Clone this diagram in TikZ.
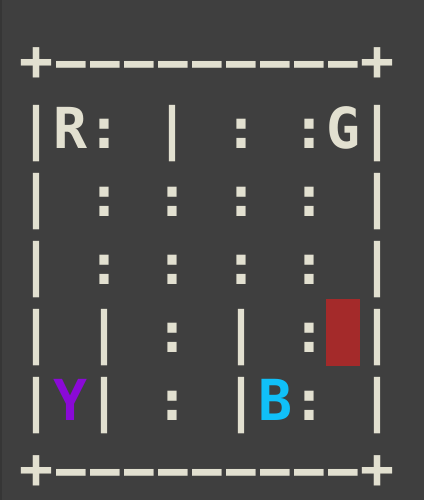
\documentclass[tikz,border=0pt]{standalone}
\usepackage{fontspec}
\newfontfamily\monofam{DejaVu Sans Mono}
\definecolor{bg}{HTML}{3F3F3F}
\definecolor{bgedge}{HTML}{363636}
\definecolor{ink}{HTML}{E2E0D0}
\definecolor{ypurple}{HTML}{8A0AD6}
\definecolor{bblue}{HTML}{10C0F8}
\definecolor{taxired}{HTML}{A42A2A}
\tikzset{
  glyph/.style={inner sep=0pt, outer sep=0pt, anchor=base, text=ink,
    font=\monofam\bfseries\fontsize{42.36pt}{50pt}\selectfont},
}
\newcommand{\dashglyph}{\scalebox{0.87}[1]{–}}
\begin{document}
\begin{tikzpicture}[x=0.75pt,y=-0.75pt]
\fill[bg] (0,0) rectangle (424,500);
\fill[bgedge] (0,0) rectangle (2,500);
\useasboundingbox (0,0) rectangle (424,500);
% taxi
\fill[taxired] (326,299) rectangle (359.5,365.5);
% borders
\foreach \r in {0,6}{
  \foreach \c in {0,10}{\node[glyph] (g\r-\c) at ({37+34*\c},{80+68*\r}) {+};}
  \foreach \c in {1,...,9}{\node[glyph] (g\r-\c) at ({37+34*\c},{80+68*\r}) {\dashglyph};}
}
% row 1
\foreach \c in {0,4,10}{\node[glyph] (g1-\c) at ({37+34*\c},148) {|};}
\foreach \c in {2,6,8}{\node[glyph] (g1-\c) at ({37+34*\c},148) {:};}
\node[glyph] (g1-1) at ({37+34*1},148) {R};
\node[glyph] (g1-9) at ({37+34*9},148) {G};
% rows 2,3
\foreach \r in {2,3}{
  \foreach \c in {0,10}{\node[glyph] (g\r-\c) at ({37+34*\c},{80+68*\r}) {|};}
  \foreach \c in {2,4,6,8}{\node[glyph] (g\r-\c) at ({37+34*\c},{80+68*\r}) {:};}
}
% row 4
\foreach \c in {0,2,6,10}{\node[glyph] (g4-\c) at ({37+34*\c},352) {|};}
\foreach \c in {4,8}{\node[glyph] (g4-\c) at ({37+34*\c},352) {:};}
% row 5
\foreach \c in {0,2,6,10}{\node[glyph] (g5-\c) at ({37+34*\c},420) {|};}
\foreach \c in {4,8}{\node[glyph] (g5-\c) at ({37+34*\c},420) {:};}
\node[glyph, text=ypurple] (g5-1) at ({37+34*1},420) {Y};
\node[glyph, text=bblue] (g5-7) at ({37+34*7},420) {B};
\end{tikzpicture}
\end{document}
